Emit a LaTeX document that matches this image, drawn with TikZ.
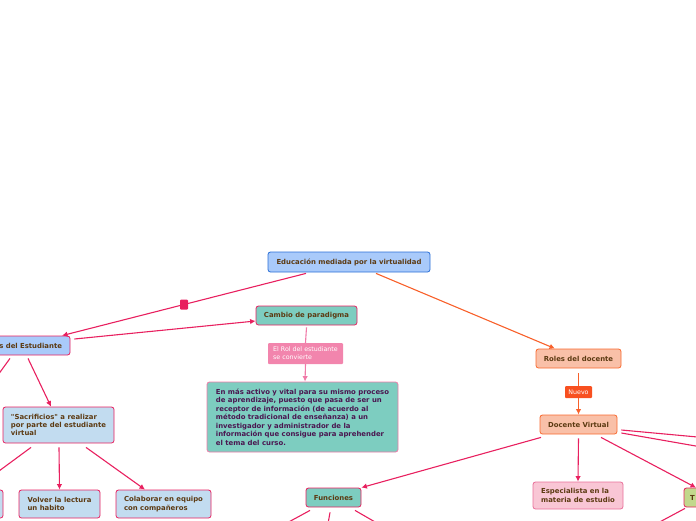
\documentclass[tikz,border=0pt]{standalone}
\usepackage{fontspec}
\setmainfont{DejaVu Sans}[Ligatures=TeXOff]
\usetikzlibrary{arrows.meta}
\definecolor{txtbrown}{HTML}{5C3A12}
\definecolor{bigtxt}{HTML}{4A1650}
\definecolor{bluefill}{HTML}{A9CAFA}
\definecolor{blueborder}{HTML}{2A6FD6}
\definecolor{lightblue}{HTML}{C2DCF0}
\definecolor{tealfill}{HTML}{7DCDC0}
\definecolor{salmon}{HTML}{F9C0A8}
\definecolor{orangeborder}{HTML}{F86A30}
\definecolor{orangeline}{HTML}{F8602A}
\definecolor{orangelab}{HTML}{F85020}
\definecolor{pinkedge}{HTML}{E8205F}
\definecolor{lightpink}{HTML}{F07AA8}
\definecolor{labpink}{HTML}{F285AD}
\definecolor{pinkfill}{HTML}{F9C6D5}
\definecolor{esppink}{HTML}{E8709A}
\definecolor{olivefill}{HTML}{C2D88C}
\tikzset{
  box/.style={draw, rounded corners=2.5pt, line width=0.8pt, text=txtbrown,
    font=\fontsize{6.9}{8.4}\selectfont\bfseries, inner sep=0pt, align=left},
  labbox/.style={text=white, font=\fontsize{6.3}{8}\selectfont, inner sep=0pt,
    rounded corners=1pt, align=left},
  pkline/.style={draw=pinkedge, line width=1.1pt},
  pkarrow/.style={pkline, -{Latex[length=5.5pt,width=5.5pt]}},
  orline/.style={draw=orangeline, line width=1.1pt},
  orarrow/.style={orline, -{Latex[length=5.5pt,width=5.5pt]}},
  lpline/.style={draw=lightpink, line width=1.1pt},
  lparrow/.style={lpline, -{Latex[length=5.5pt,width=5.5pt]}},
  sqmark/.style={fill=pinkedge, minimum width=8pt, minimum height=10pt, inner sep=0pt, rounded corners=1pt}
}
\begin{document}
\begin{tikzpicture}[x=1pt,y=-1pt]
\useasboundingbox (0,0) rectangle (696,520);
\clip (0,0) rectangle (696,520);

% nodes
\node[box, fill=bluefill, draw=blueborder, minimum width=162pt, minimum height=20pt] (root) at (349,262) {Educación mediada por la virtualidad};
\node[box, fill=bluefill, draw=pinkedge, text width=84pt, align=right, inner xsep=8pt, minimum height=19pt] (est) at (20,345.5) {s del Estudiante};
\node[box, fill=tealfill, draw=pinkedge, minimum width=101pt, minimum height=19pt] (cambio) at (306.5,315.5) {Cambio de paradigma};
\node[labbox, fill=labpink, minimum width=75pt, minimum height=21pt] (lab) at (305.5,353.5) {El Rol del estudiante\\se convierte};
\node[box, fill=tealfill, draw=lightpink, text=bigtxt, minimum width=191pt, minimum height=70pt, font=\fontsize{6.9}{8.5}\selectfont\bfseries] (big) at (302.5,417) {En más activo y vital para su mismo proceso\\de aprendizaje, puesto que pasa de ser un\\receptor de información (de acuerdo al\\método tradicional de enseñanza) a un\\investigador y administrador de la\\información que consigue para aprehender\\el tema del curso.};
\node[box, fill=salmon, draw=orangeborder, minimum width=85pt, minimum height=19pt] (roles) at (578.5,358.5) {Roles del docente};
\node[labbox, fill=orangelab, minimum width=27pt, minimum height=12pt] (nuevo) at (578.5,392) {Nuevo};
\node[box, fill=salmon, draw=orangeborder, minimum width=77pt, minimum height=19pt] (docente) at (578.5,424.5) {Docente Virtual};
\node[box, fill=lightblue, draw=pinkedge, minimum width=111pt, minimum height=36pt] (sacr) at (58.5,425) {"Sacrificios" a realizar\\por parte del estudiante\\virtual};
\node[box, fill=lightblue, draw=pinkedge, minimum width=81pt, minimum height=28pt] (volver) at (59.5,504) {Volver la lectura\\un habito};
\node[box, fill=lightblue, draw=pinkedge, minimum width=95pt, minimum height=28pt] (colab) at (163.5,504) {Colaborar en equipo\\con compañeros};
\node[box, fill=lightblue, draw=pinkedge, minimum width=60pt, minimum height=28pt] (cutl) at (-27,504) {};
\node[box, fill=tealfill, draw=pinkedge, minimum width=55pt, minimum height=19pt] (func) at (333.5,497.5) {Funciones};
\node[box, fill=pinkfill, draw=esppink, minimum width=90pt, minimum height=27pt] (esp) at (578,495.5) {Especialista en la\\materia de estudio};
\node[box, fill=olivefill, draw=pinkedge, text width=40pt, inner xsep=6pt, minimum height=19pt] (tn) at (710,497.5) {T};

% free ends
\coordinate (e1) at (-10,386);
\coordinate (s1) at (-20,485);
\coordinate (r1) at (730,440);
\coordinate (r2) at (730,452);
\coordinate (f1) at (274,530);
\coordinate (f2) at (326,535);
\coordinate (f3) at (389,530);
\coordinate (f4) at (641,532);

% connectors
\draw[pkarrow] ([shift={(-43,1)}]root.south) -- node[sqmark, pos=0.5]{} ([xshift=42pt]est.north);
\draw[orarrow] ([shift={(27,1)}]root.south) -- ([xshift=-23.5pt]roles.north);
\draw[pkarrow] ([shift={(4,-6.5)}]est.east) -- ([shift={(0,5.5)}]cambio.west);
\draw[lpline] ([shift={(0,2)}]cambio.south) -- (lab.north);
\draw[lparrow] (lab.south) -- ([xshift=2.5pt]big.north);
\draw[pkarrow] ([shift={(8,3)}]est.south) -- ([xshift=-7.5pt]sacr.north);
\draw[pkline] ([shift={(-10,3)}]est.south) -- (e1);
\draw[pkline] ([shift={(-27.5,4)}]sacr.south) -- (s1);
\draw[pkarrow] ([shift={(0.5,4)}]sacr.south) -- (volver.north);
\draw[pkarrow] ([shift={(27.5,4)}]sacr.south) -- ([xshift=-18.5pt]colab.north);
\draw[orline] ([shift={(0,5)}]roles.south) -- (nuevo.north);
\draw[orarrow] (nuevo.south) -- (docente.north);
\draw[pkarrow] ([shift={(-37.5,3)}]docente.south) -- (func.north east);
\draw[pkarrow] ([shift={(0,4)}]docente.south) -- (esp.north);
\draw[pkarrow] ([shift={(22.5,3)}]docente.south) -- ([xshift=-14pt]tn.north);
\draw[pkline] ([shift={(4,5.5)}]docente.east) -- (r1);
\draw[pkline] ([shift={(4,8.5)}]docente.east) -- (r2);
\draw[pkline] ([shift={(-23.5,3)}]func.south) -- (f1);
\draw[pkline] ([shift={(-3.5,5)}]func.south) -- (f2);
\draw[pkline] ([shift={(21.5,3)}]func.south) -- (f3);
\draw[pkline] ([shift={(-25,1)}]tn.south) -- (f4);
\end{tikzpicture}
\end{document}
